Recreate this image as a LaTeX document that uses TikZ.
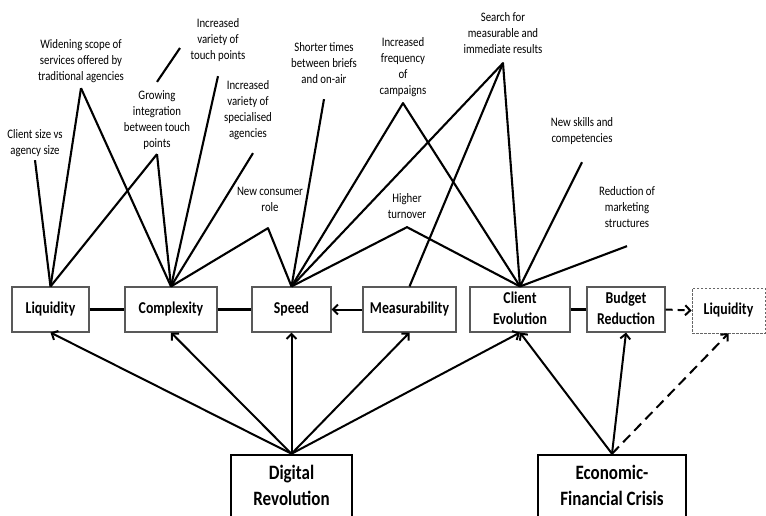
\documentclass[tikz,border=0pt]{standalone}
\usepackage{fontspec}
\setmainfont{Carlito}
\usetikzlibrary{arrows.meta}
% text set in a centred block, drawn slightly taller than wide
\newcommand{\tallcell}[1]{\scalebox{1}[1.2]{\begin{tabular}{@{}c@{}}#1\end{tabular}}}
\tikzset{
  lab/.style={inner sep=0pt, font=\fontsize{10.8}{13.3}\selectfont},
  factor/.style={draw=black!65, line width=1.1pt, fill=white, inner sep=0pt,
    minimum height=45pt, font=\bfseries\fontsize{13.8}{18}\selectfont},
  dashedfactor/.style={factor, draw=black!60, line width=0.8pt, dash pattern=on 2.5pt off 1.5pt},
  driver/.style={draw=black, line width=2.5pt, inner sep=0pt, minimum height=65pt,
    font=\bfseries\fontsize{17}{21.7}\selectfont},
  link/.style={line width=2.1pt, line join=round},
  push/.style={line width=2pt, -{Straight Barb[length=5pt,width=10pt]}},
}
\begin{document}
\begin{tikzpicture}[x=1pt,y=-1pt]
\clip (0,0) rectangle (766,515);

% factor boxes
\node[factor, minimum width=77pt]  (liq)    at (50.5,309.5)  {\tallcell{Liquidity}};
\node[factor, minimum width=92pt]  (cplx)   at (171,309.5)   {\tallcell{Complexity}};
\node[factor, minimum width=79pt]  (speed)  at (291.5,309.5) {\tallcell{Speed}};
\node[factor, minimum width=93pt]  (meas)   at (409.5,309.5) {\tallcell{Measurability}};
\node[factor, minimum width=100pt] (client) at (520,309.5)   {\tallcell{Client\\Evolution}};
\node[factor, minimum width=78pt]  (budget) at (626,309.5)   {\tallcell{Budget\\Reduction}};
\node[dashedfactor, minimum width=73pt] (liq2) at (728.5,310.5) {\tallcell{Liquidity}};

% drivers
\node[driver, minimum width=121pt] (digital) at (291.5,487.5) {\tallcell{Digital\\Revolution}};
\node[driver, minimum width=148pt] (crisis)  at (612,487.5)   {\tallcell{Economic-\\Financial Crisis}};

% trend labels
\node[lab] (clientsize) at (35,143)  {\tallcell{Client size vs\\agency size}};
\node[lab] (widening)   at (81,61)   {\tallcell{Widening scope of\\services offered by\\traditional agencies}};
\node[lab] (touch)      at (218,40)  {\tallcell{Increased\\variety of\\touch points}};
\node[lab] (growing)    at (157,120) {\tallcell{Growing\\integration\\between touch\\points}};
\node[lab] (special)    at (248,110) {\tallcell{Increased\\variety of\\specialised\\agencies}};
\node[lab] (consumer)   at (270,200) {\tallcell{New consumer\\role}};
\node[lab] (shorter)    at (324,64)  {\tallcell{Shorter times\\between briefs\\and on-air}};
\node[lab] (frequency)  at (403,67)  {\tallcell{Increased\\frequency\\of\\campaigns}};
\node[lab] (higher)     at (407,207) {\tallcell{Higher\\turnover}};
\node[lab] (search)     at (503,34)  {\tallcell{Search for\\measurable and\\immediate results}};
\node[lab] (skills)     at (582,131) {\tallcell{New skills and\\competencies}};
\node[lab] (reduction)  at (627,208) {\tallcell{Reduction of\\marketing\\structures}};

% links from the factors up to the trends
\draw[link] (liq.north) -- ([yshift=-1pt]clientsize.south);
\draw[link] (liq.north) -- ([yshift=-3pt]widening.south);
\draw[link] (liq.north) -- ([yshift=-2pt]growing.south);
\draw[link] (cplx.north) -- ([yshift=-3pt]widening.south);
\draw[link] (cplx.north) -- ([yshift=-2pt]growing.south);
\draw[link] (cplx.north) -- ([yshift=-12pt]touch.south);
\draw[link] (cplx.north) -- ([xshift=5pt,yshift=-11pt]special.south);
\draw[link] (cplx.north) -- ([xshift=-2pt,yshift=-12pt]consumer.south) -- (speed.north);
\draw[link] ([yshift=6pt]growing.north) -- ([xshift=-38pt,yshift=-8pt]touch.center);
\draw[link] (speed.north) -- ([yshift=-11pt]shorter.south);
\draw[link] (speed.north) -- ([yshift=-4pt]frequency.south) -- (client.north);
\draw[link] (speed.north) -- ([yshift=-4pt]higher.south) -- (client.north);
\draw[link] (speed.north) -- ([yshift=-5pt]search.south) -- (client.north);
\draw[link] (meas.north) -- ([yshift=-5pt]search.south);
\draw[link] (client.north) -- ([yshift=-15pt]skills.south);
\draw[link] (client.north) -- ([yshift=-14pt]reduction.south);

% links between the factors
\draw[link] (liq.east) -- (cplx.west);
\draw[link] (cplx.east) -- (speed.west);
\draw[push] (meas.west) -- (speed.east);
\draw[link, line width=2.8pt] (client.east) -- (budget.west);
\draw[push, dash pattern=on 7pt off 5pt] (budget.east) -- (liq2.west);

% drivers to factors
\draw[push] (digital.north) -- (liq.south);
\draw[push] (digital.north) -- (cplx.south);
\draw[push] (digital.north) -- (speed.south);
\draw[push] (digital.north) -- (meas.south);
\draw[push] (digital.north) -- (client.south);
\draw[push] (crisis.north) -- (client.south);
\draw[push] (crisis.north) -- (budget.south);
\draw[push, dash pattern=on 10pt off 6pt] (crisis.north) -- (liq2.south);
\end{tikzpicture}
\end{document}
